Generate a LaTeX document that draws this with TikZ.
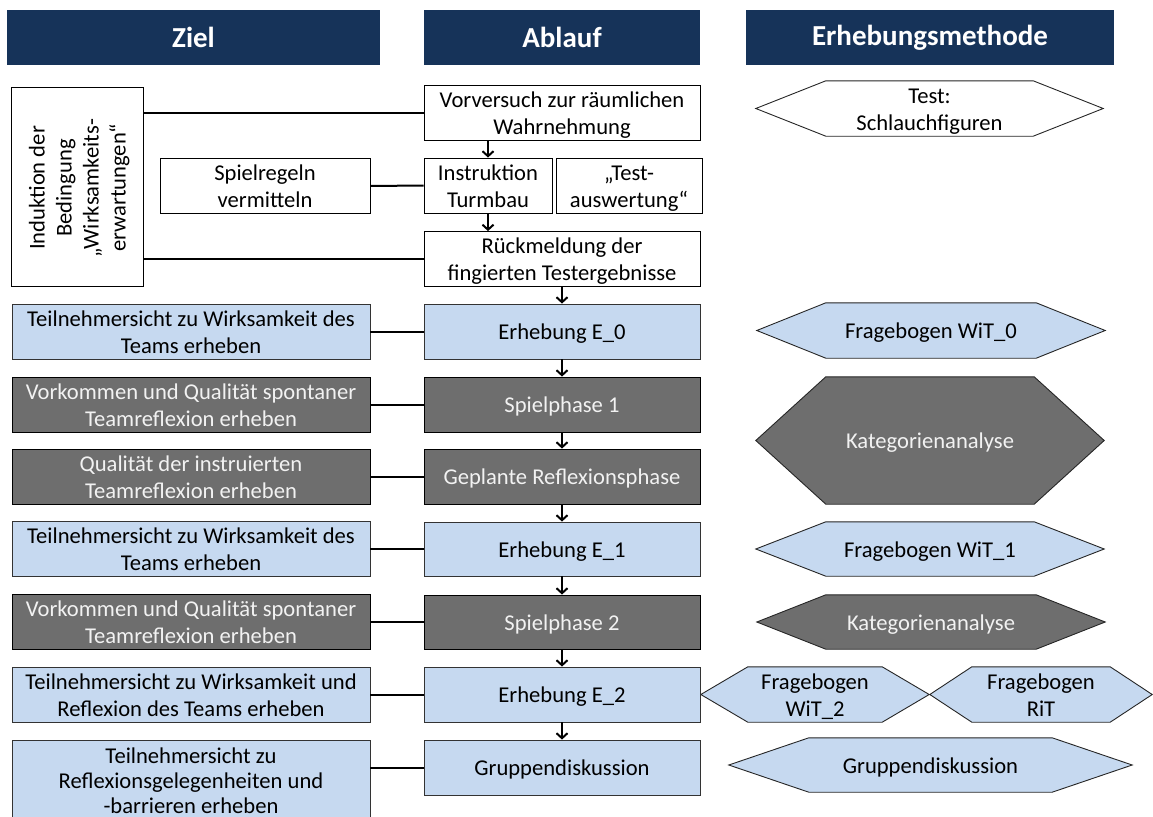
\documentclass[tikz,border=0pt]{standalone}
\usepackage{fontspec}
\setmainfont{Carlito}
\usetikzlibrary{arrows.meta,backgrounds}
\definecolor{navy}{RGB}{22,51,89}
\definecolor{lblue}{RGB}{198,217,240}
\definecolor{dgrey}{RGB}{110,110,110}
\definecolor{txtw}{RGB}{242,242,242}
\newcommand\tp{\rule{0pt}{22pt}}
\newcommand\hexa[3]{\path[#3] (#1.west) -- ([xshift=#2pt]#1.north west) -- ([xshift=-#2pt]#1.north east) -- (#1.east) -- ([xshift=-#2pt]#1.south east) -- ([xshift=#2pt]#1.south west) -- cycle;}
\tikzset{
  every node/.style={inner sep=0pt, align=center, font=\fontsize{22.6}{27}\selectfont},
  strt/.style={execute at end node={\rule[-6pt]{0pt}{0pt}}},
  hdr/.style={fill=navy, text=white, font=\fontsize{29}{32}\selectfont\bfseries, minimum height=55pt},
  wbox/.style={strt, draw=black, line width=0.9pt, fill=white},
  bbox/.style={strt, draw=black!80, line width=0.9pt, fill=lblue},
  lbox/.style={draw=black!80, line width=0.9pt, fill=lblue},
  gbox/.style={strt, draw=black, line width=0.9pt, fill=dgrey, text=txtw},
  htxt/.style={strt},
  hexw/.style={draw=black!85, line width=0.9pt, fill=white},
  hexb/.style={draw=black!85, line width=0.9pt, fill=lblue},
  hexg/.style={draw=black!85, line width=0.9pt, fill=dgrey},
  link/.style={draw=black, line width=2pt},
  arr/.style={draw=black, line width=2pt, -{Straight Barb[length=5pt,width=11pt]}},
}
\begin{document}
\begin{tikzpicture}[x=1pt,y=-1pt]
\useasboundingbox (0,0) rectangle (1153,816);
% headers
\node[hdr, minimum width=373pt] (hz) at (193.5,37.5) {Ziel};
\node[hdr, minimum width=276pt] (ha) at (562,37.5) {Ablauf};
\node[hdr, minimum width=368pt] (hm) at (930,37.5) {Erhebungsmethode};
% upper part
\node[wbox, minimum width=132pt, minimum height=199pt] (ind) at (77,186.5) {};
\node[htxt, rotate=90] (indtext) at (77,188) {\tp Induktion der\\Bedingung\\„Wirksamkeits-\\erwartungen“};
\node[wbox, minimum width=210pt, minimum height=54pt] (regeln) at (265,186) {\tp Spielregeln\\vermitteln};
\node[wbox, minimum width=276pt, minimum height=52pt] (vor) at (562,113) {\tp Vorversuch zur räumlichen\\Wahrnehmung};
\node[wbox, minimum width=128pt, minimum height=53pt] (instr) at (488,185.5) {\tp Instruktion\\Turmbau};
\node[wbox, minimum width=146pt, minimum height=53pt] (testaus) at (629,185.5) {\tp „Test-\\auswertung“};
\node[wbox, minimum width=276pt, minimum height=54pt] (rueck) at (562,259) {\tp Rückmeldung der\\fingierten Testergebnisse};
% Ziel rows
\node[bbox, minimum width=358pt, minimum height=55pt] (z1) at (191,331.5) {\tp Teilnehmersicht zu Wirksamkeit des\\Teams erheben};
\node[gbox, minimum width=358pt, minimum height=55pt] (z2) at (191,404.5) {\tp Vorkommen und Qualität spontaner\\Teamreflexion erheben};
\node[gbox, minimum width=358pt, minimum height=55pt] (z3) at (191,476.5) {\tp Qualität der instruierten\\Teamreflexion erheben};
\node[bbox, minimum width=358pt, minimum height=54pt] (z4) at (191,549) {\tp Teilnehmersicht zu Wirksamkeit des\\Teams erheben};
\node[gbox, minimum width=358pt, minimum height=54pt] (z5) at (191,622) {\tp Vorkommen und Qualität spontaner\\Teamreflexion erheben};
\node[bbox, minimum width=358pt, minimum height=55pt] (z6) at (191,694.5) {\tp Teilnehmersicht zu Wirksamkeit und\\Reflexion des Teams erheben};
\node[lbox, minimum width=358pt, minimum height=78pt, font=\fontsize{22.6}{25}\selectfont] (z7) at (191,779) {\rule{0pt}{20pt}Teilnehmersicht zu\\Reflexionsgelegenheiten und\\-barrieren erheben};
% Ablauf rows
\node[bbox, minimum width=276pt, minimum height=55pt] (a1) at (562,331.5) {\tp Erhebung E\_0};
\node[gbox, minimum width=276pt, minimum height=55pt] (a2) at (562,404.5) {\tp Spielphase 1};
\node[gbox, minimum width=276pt, minimum height=55pt] (a3) at (562,476.5) {\tp Geplante Reflexionsphase};
\node[bbox, minimum width=276pt, minimum height=54pt] (a4) at (562,549) {\tp Erhebung E\_1};
\node[gbox, minimum width=276pt, minimum height=54pt] (a5) at (562,622) {\tp Spielphase 2};
\node[bbox, minimum width=276pt, minimum height=55pt] (a6) at (562,694.5) {\tp Erhebung E\_2};
\node[bbox, minimum width=276pt, minimum height=55pt] (a7) at (562,767.5) {\tp Gruppendiskussion};
% method hexagons (text nodes)
\node[htxt, minimum width=347pt, minimum height=55pt] (htest) at (929.5,108.5) {\tp Test:\\Schlauchfiguren};
\node[htxt, minimum width=348pt, minimum height=55pt] (h1) at (931,330.5) {\tp Fragebogen WiT\_0};
\node[htxt, minimum width=348pt, minimum height=127pt, text=txtw] (h2) at (930,440.5) {\tp Kategorienanalyse};
\node[htxt, minimum width=348pt, minimum height=54pt] (h3) at (930,549) {\tp Fragebogen WiT\_1};
\node[htxt, minimum width=348pt, minimum height=54pt, text=txtw] (h4) at (931,622) {\tp Kategorienanalyse};
\node[htxt, minimum width=228pt, minimum height=55pt] (h5) at (815,694.5) {\tp Fragebogen\\WiT\_2};
\node[htxt, minimum width=222pt, minimum height=55pt] (h6) at (1041,694.5) {\tp Fragebogen\\RiT};
\node[htxt, minimum width=403pt, minimum height=54pt] (h7) at (930.5,765) {\tp Gruppendiskussion};
\begin{scope}[on background layer]
\hexa{htest}{70}{hexw}
\hexa{h1}{69}{hexb}
\hexa{h2}{70}{hexg}
\hexa{h3}{70}{hexb}
\hexa{h4}{69}{hexg}
\hexa{h5}{47}{hexb}
\hexa{h6}{42}{hexb}
\hexa{h7}{80}{hexb}
\end{scope}
% connectors
\draw[link] (vor.west) -- (vor.west -| ind.east);
\draw[link] (rueck.west) -- (rueck.west -| ind.east);
\draw[link] (regeln.east) -- (instr.west);
\foreach \i in {1,...,6} {\draw[link] (z\i.east) -- (a\i.west);}
\draw[link] (a7.west) -- (a7.west -| z7.east);
% arrows
\draw[arr] (instr.north |- vor.south) -- (instr.north);
\draw[arr] (instr.south) -- (instr.south |- rueck.north);
\draw[arr] (rueck.south) -- (a1.north);
\draw[arr] (a1.south) -- (a2.north);
\draw[arr] (a2.south) -- (a3.north);
\draw[arr] (a3.south) -- (a4.north);
\draw[arr] (a4.south) -- (a5.north);
\draw[arr] (a5.south) -- (a6.north);
\draw[arr] (a6.south) -- (a7.north);
\end{tikzpicture}
\end{document}
